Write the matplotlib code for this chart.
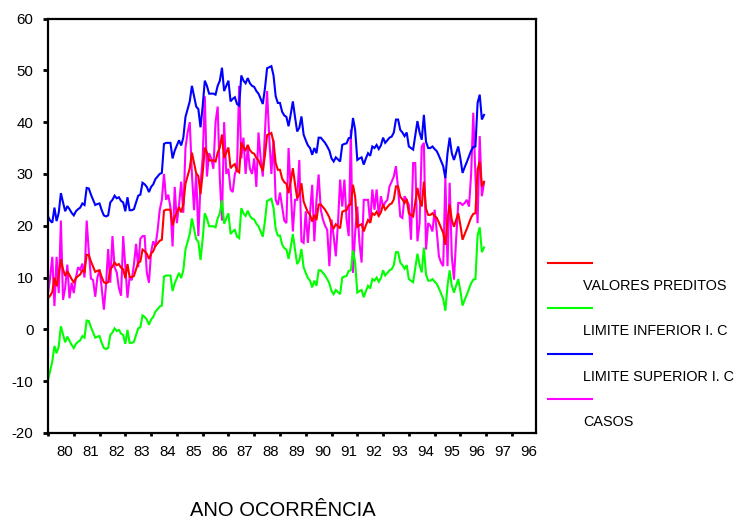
import matplotlib
matplotlib.use('Agg')
import matplotlib.pyplot as plt
from matplotlib.lines import Line2D

plt.rcParams['font.family'] = ['Liberation Sans', 'DejaVu Sans']
plt.rcParams['axes.unicode_minus'] = False

# ---- monthly series, Jan 1980 onwards (one value per month) ----
valores_preditos = [
    6.0, 6.5, 7.2, 10.0, 8.3, 10.6, 13.5, 11.6, 10.3, 11.2, 10.5, 9.7,
    9.1, 9.9, 10.3, 10.6, 11.4, 11.1, 14.4, 14.3, 13.1, 12.1, 11.1, 11.3,
    11.4, 10.1, 9.1, 8.9, 9.1, 11.6, 12.1, 12.9, 12.4, 12.6, 11.9, 11.6,
    9.9, 12.6, 10.1, 10.1, 10.3, 11.6, 12.9, 13.1, 15.4, 15.1, 14.6, 13.6,
    14.6, 15.1, 16.1, 16.6, 17.1, 17.3, 22.9, 23.1, 23.1, 23.1, 20.1, 21.6,
    22.6, 23.6, 22.6, 24.1, 28.1, 29.6, 31.1, 34.1, 32.1, 30.1, 29.6, 26.1,
    30.1, 35.1, 34.1, 32.6, 32.6, 32.6, 32.4, 34.1, 35.1, 37.6, 33.1, 34.1,
    35.1, 31.1, 31.6, 31.9, 30.6, 30.3, 36.1, 35.1, 34.6, 35.6, 34.6, 34.1,
    33.9, 33.1, 32.6, 31.6, 30.6, 33.6, 37.5, 37.7, 37.9, 36.1, 32.1, 30.8,
    30.8, 29.1, 28.4, 28.1, 26.3, 28.6, 31.1, 28.1, 25.3, 26.0, 28.2, 24.7,
    23.6, 22.6, 22.1, 20.8, 22.1, 21.1, 24.1, 24.1, 23.6, 23.1, 22.4, 21.6,
    20.1, 19.5, 20.3, 19.9, 19.5, 22.7, 22.9, 23.0, 24.0, 24.1, 27.9, 25.6,
    19.8, 20.1, 20.3, 18.9, 20.1, 21.1, 20.6, 22.4, 22.1, 22.7, 21.9, 22.6,
    24.1, 23.1, 23.6, 24.1, 24.3, 25.1, 27.6, 27.6, 25.6, 25.1, 24.4, 25.1,
    22.4, 22.1, 21.8, 24.6, 27.3, 25.1, 23.7, 28.5, 23.3, 22.1, 22.1, 22.4,
    21.9, 21.5, 20.6, 19.6, 18.6, 16.3, 21.1, 24.1, 21.1, 19.8, 21.1, 22.4,
    20.1, 17.3, 18.4, 19.4, 20.5, 21.6, 22.3, 22.4, 30.8, 32.4, 27.6, 28.5,
]

limite_inferior = [
    -9.8, -8.0, -6.2, -3.2, -4.6, -3.3, 0.6, -1.0, -2.5, -1.4, -2.2, -3.0,
    -3.6, -2.8, -2.4, -2.1, -1.3, -1.6, 1.7, 1.6, 0.4, -0.6, -1.6, -1.4,
    -1.3, -2.6, -3.6, -3.8, -3.6, -1.1, -0.6, 0.2, -0.3, -0.1, -0.8, -1.1,
    -2.8, -0.1, -2.6, -2.6, -2.4, -1.1, 0.2, 0.4, 2.7, 2.4, 1.9, 0.9,
    1.9, 2.4, 3.4, 3.9, 4.4, 4.6, 10.2, 10.4, 10.4, 10.4, 7.4, 8.9,
    9.9, 10.9, 9.9, 11.4, 15.4, 16.9, 18.4, 21.4, 19.4, 17.4, 16.9, 13.4,
    17.4, 22.4, 21.4, 19.9, 19.9, 19.9, 19.7, 21.4, 22.4, 24.9, 20.4, 21.4,
    22.4, 18.4, 18.9, 19.2, 17.9, 17.6, 23.4, 22.4, 21.9, 22.9, 21.9, 21.4,
    21.2, 20.4, 19.9, 18.9, 17.9, 20.9, 24.8, 25.0, 25.2, 23.4, 19.4, 18.1,
    18.1, 16.4, 15.7, 15.4, 13.6, 15.9, 18.4, 15.4, 12.6, 13.3, 15.5, 12.0,
    10.9, 9.9, 9.4, 8.1, 9.4, 8.4, 11.4, 11.4, 10.9, 10.4, 9.7, 8.9,
    7.4, 6.8, 7.6, 7.2, 6.8, 10.0, 10.2, 10.3, 11.3, 11.4, 15.2, 12.9,
    7.1, 7.4, 7.6, 6.2, 7.4, 8.4, 7.9, 9.7, 9.4, 10.0, 9.2, 9.9,
    11.4, 10.4, 10.9, 11.4, 11.6, 12.4, 14.9, 14.9, 12.9, 12.4, 11.7, 12.4,
    9.7, 9.4, 9.1, 11.9, 14.6, 12.4, 11.0, 15.8, 10.6, 9.4, 9.4, 9.7,
    9.2, 8.8, 7.9, 6.9, 5.9, 3.6, 8.4, 11.4, 8.4, 7.1, 8.4, 9.7,
    7.4, 4.6, 5.7, 6.7, 7.8, 8.9, 9.6, 9.7, 18.1, 19.7, 14.9, 15.8,
]

limite_superior = [
    21.8, 21.0, 20.6, 23.5, 20.9, 22.5, 26.3, 24.5, 22.8, 23.8, 23.2, 22.5,
    22.0, 22.8, 23.2, 23.5, 24.3, 24.0, 27.3, 27.2, 26.0, 25.0, 24.0, 24.2,
    24.3, 23.0, 22.0, 21.8, 22.0, 24.5, 25.0, 25.8, 25.3, 25.5, 24.8, 24.5,
    22.8, 25.5, 23.0, 23.0, 23.2, 24.5, 25.8, 26.0, 28.3, 28.0, 27.5, 26.5,
    27.5, 28.0, 29.0, 29.5, 30.0, 30.2, 35.8, 36.0, 36.0, 36.0, 33.0, 34.5,
    35.5, 36.5, 35.5, 37.0, 41.0, 42.5, 44.0, 47.0, 45.0, 43.0, 42.5, 39.0,
    43.0, 48.0, 47.0, 45.5, 45.5, 45.5, 45.3, 47.0, 48.0, 50.5, 46.0, 47.0,
    48.0, 44.0, 44.5, 44.8, 43.5, 43.2, 49.0, 48.0, 47.5, 48.5, 47.5, 47.0,
    46.8, 46.0, 45.5, 44.5, 43.5, 46.5, 50.4, 50.6, 50.8, 49.0, 45.0, 43.7,
    43.7, 42.0, 41.3, 41.0, 39.2, 41.5, 44.0, 41.0, 38.2, 38.9, 41.1, 37.6,
    36.5, 35.5, 35.0, 33.7, 35.0, 34.0, 37.0, 37.0, 36.5, 36.0, 35.3, 34.5,
    33.0, 32.4, 33.2, 32.8, 32.4, 35.6, 35.8, 35.9, 36.9, 37.0, 40.8, 38.5,
    32.7, 33.0, 33.2, 31.8, 33.0, 34.0, 33.5, 35.3, 35.0, 35.6, 34.8, 35.5,
    37.0, 36.0, 36.5, 37.0, 37.2, 38.0, 40.5, 40.5, 38.5, 38.0, 37.3, 38.0,
    35.3, 35.0, 34.7, 37.5, 40.2, 38.0, 36.6, 41.4, 36.2, 35.0, 35.0, 35.3,
    34.8, 34.4, 33.5, 32.5, 31.5, 29.2, 34.0, 37.0, 34.0, 32.7, 34.0, 35.3,
    33.0, 30.2, 31.3, 32.3, 33.4, 34.5, 35.2, 35.3, 43.7, 45.3, 40.5, 41.4,
]

casos = [
    7.0, 10.0, 14.0, 4.5, 14.0, 7.0, 21.0, 5.7, 8.0, 12.5, 6.0, 9.0,
    7.0, 10.0, 12.0, 11.5, 12.7, 10.0, 21.0, 15.0, 9.8, 9.5, 6.3, 10.0,
    11.5, 8.0, 3.8, 8.5, 15.5, 9.0, 18.0, 12.0, 11.0, 8.0, 6.5, 18.0,
    12.0, 6.1, 10.0, 9.5, 12.5, 16.5, 12.0, 17.5, 18.0, 18.0, 11.0, 9.0,
    15.0, 17.0, 16.0, 19.0, 23.0, 25.0, 30.0, 25.0, 26.0, 23.5, 16.0, 27.5,
    20.5, 24.0, 28.5, 22.5, 35.0, 38.0, 40.0, 30.0, 23.0, 30.0, 18.0, 28.0,
    33.0, 45.0, 29.5, 34.0, 33.0, 31.0, 40.0, 43.0, 29.0, 21.0, 40.0, 30.0,
    31.0, 27.0, 26.5, 30.0, 31.0, 47.0, 33.0, 37.0, 30.0, 35.0, 31.0, 30.0,
    33.0, 27.5, 38.0, 33.0, 29.5, 38.0, 46.0, 37.0, 30.0, 36.5, 25.0, 24.0,
    26.4, 23.7, 21.0, 20.5, 35.0, 27.0, 18.9, 25.0, 25.0, 32.7, 17.0, 16.7,
    22.8, 16.7, 22.5, 27.9, 17.0, 25.0, 29.9, 23.1, 21.2, 20.0, 19.2, 12.2,
    21.2, 18.0, 14.1, 20.5, 28.9, 23.7, 28.9, 21.2, 18.0, 38.6, 10.9, 18.7,
    23.7, 16.7, 12.9, 25.0, 25.0, 25.0, 20.5, 27.0, 23.1, 27.0, 21.8, 25.7,
    23.7, 24.5, 25.0, 27.6, 28.5, 29.5, 31.5, 27.0, 21.8, 21.5, 25.7, 25.0,
    24.0, 17.3, 32.1, 32.1, 17.0, 20.5, 35.3, 36.0, 15.4, 20.5, 20.0, 18.9,
    23.1, 18.9, 14.1, 12.9, 12.2, 29.5, 12.2, 28.3, 14.1, 9.6, 17.3, 24.4,
    24.4, 24.0, 24.4, 25.0, 23.7, 30.0, 41.8, 29.5, 20.5, 37.3, 25.7, 28.3,
]

# axis labels: one per year, last one as printed on the axis
year_labels = ['80', '81', '82', '83', '84', '85', '86', '87', '88', '89',
               '90', '91', '92', '93', '94', '95', '96', '97', '96']

series = [
    ('VALORES PREDITOS', valores_preditos, '#ff0000'),
    ('LIMITE INFERIOR I. C', limite_inferior, '#00ff00'),
    ('LIMITE SUPERIOR I. C', limite_superior, '#0000ff'),
    ('CASOS', casos, '#ff00ff'),
]

# ---- figure ----
W, H = 738, 522
fig = plt.figure(figsize=(W / 100, H / 100), dpi=100)
ax = fig.add_axes([48 / W, 1 - 433 / H, (536 - 48) / W, (433 - 18.5) / H])

months = list(range(len(valores_preditos)))
# draw cases first so the fitted lines sit on top
for name, vals, col in [series[3]] + series[:3]:
    ax.plot(months, vals, color=col, lw=1.5, solid_joinstyle='miter')

ax.set_xlim(0, 227.2)
ax.set_ylim(-20, 60)
ax.set_yticks(range(-20, 61, 10))
ax.set_xticks(range(0, 217, 12))
ax.set_xticklabels([])
ax.set_xticks([12 * k + 7.8 for k in range(len(year_labels))], minor=True)
ax.set_xticklabels(year_labels, minor=True)

for sp in ax.spines.values():
    sp.set_linewidth(1.6)
ax.tick_params(axis='y', direction='out', length=3.5, width=2, pad=7,
               labelsize=10.8, colors='black')
ax.tick_params(axis='x', which='major', direction='out', length=2.5, width=2)
ax.tick_params(axis='x', which='minor', length=0, pad=9, labelsize=10.8)

# ---- legend: sample line above each label ----
for i, (name, vals, col) in enumerate(series):
    y_line = 263 + 45.3 * i
    fig.add_artist(Line2D([548 / W, 592 / W], [1 - y_line / H] * 2,
                          color=col, lw=1.5, transform=fig.transFigure))
    fig.text(583 / W, 1 - (y_line + 23) / H, name, fontsize=10.4,
             ha='left', va='center')

fig.text(282.5 / W, 1 - 516.5 / H, 'ANO OCORRÊNCIA', fontsize=14.5,
         ha='center', va='baseline')

fig.savefig('out.png', dpi=100)
